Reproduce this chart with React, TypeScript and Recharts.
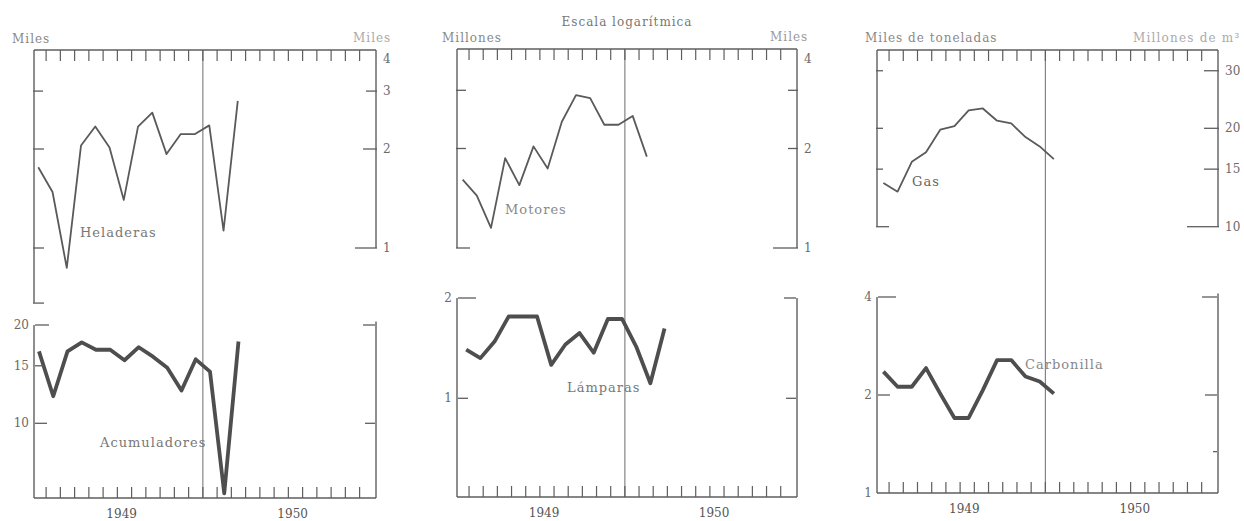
import React from 'react';
import { LineChart, Line, XAxis, YAxis, ReferenceLine } from 'recharts';

// ---------- data ----------
const MONTH_TICKS = [1, 2, 3, 4, 5, 6, 7, 8, 9, 10, 11, 12, 13, 14, 15, 16, 17, 18, 19, 20, 21, 22, 23];
const YEAR_LABELS = ['1949', '1950'];
const YEAR_POS = [6.3, 18.3];
const X_DOMAIN: [number, number] = [0.15, 24.15];
const DIVIDER = 12;

const HELADERAS = [1.76, 1.48, 0.87, 2.05, 2.34, 2.02, 1.4, 2.34, 2.58, 1.93, 2.22, 2.22, 2.36, 1.13, 2.8];
const ACUMULADORES = [16.6, 12.1, 16.6, 17.7, 16.8, 16.8, 15.6, 17.1, 16.0, 14.8, 12.6, 15.7, 14.4, 6.1, 17.8];
const MOTORES = [1.61, 1.44, 1.15, 1.87, 1.55, 2.03, 1.74, 2.41, 2.9, 2.84, 2.36, 2.36, 2.51, 1.89];
const LAMPARAS = [1.4, 1.32, 1.48, 1.76, 1.76, 1.76, 1.26, 1.45, 1.57, 1.37, 1.73, 1.73, 1.43, 1.11, 1.62];
const GAS = [13.6, 12.8, 15.8, 16.9, 19.8, 20.3, 22.7, 23.0, 21.1, 20.7, 18.8, 17.6, 16.1];
const CARBONILLA = [2.36, 2.12, 2.12, 2.42, 2.02, 1.7, 1.7, 2.07, 2.56, 2.56, 2.28, 2.2, 2.02];

// tick values / labels
const P1_UP_RIGHT = [4, 3, 2, 1];
const P1_UP_LEFT = [3, 2, 1, 0.68];
const P1_LO_LEFT = [20, 15, 10];
const P1_LO_RIGHT = [20, 10];
const P2_UP_RIGHT = [4, 3, 2, 1];
const P2_UP_LEFT = [3, 2, 1];
const P2_LO_LEFT = [2, 1];
const P2_LO_RIGHT = [2, 1];
const P3_UP_RIGHT = [30, 20, 15, 10];
const P3_UP_LEFT = [30, 20, 15, 10];
const P3_LO_LEFT = [4, 2, 1];
const P3_LO_RIGHT = [4, 2, 1.34];

// ---------- style ----------
const W = 1244;
const H = 521;
const FONT = '"DejaVu Serif", "Liberation Serif", serif';
const AXIS = '#5e5e5e';
const LINE = '#5a5a5a';
const TXT = '#6a6a6a';

type TickSpec = { v: number; len: number; label?: string; dy?: number };
type Sub = {
  values: number[];
  offset: number;
  thick: boolean;
  anchors: [[number, number], [number, number]];
  leftSpine: [number | null, number | null];
  rightSpine: [number | null, number | null];
  leftTicks: TickSpec[];
  rightTicks: TickSpec[];
};
type PanelCfg = {
  svgLeft: number;
  svgWidth: number;
  plot: { left: number; right: number; top: number; bottom: number };
  upper: Sub;
  lower: Sub;
};

const lens = (vals: number[], l: number[], labels?: (string | undefined)[], dys?: number[]): TickSpec[] =>
  vals.map((v, i) => ({ v, len: l[i], label: labels ? labels[i] : undefined, dy: dys ? dys[i] : 0 }));

const PANELS: PanelCfg[] = [
  {
    svgLeft: 0,
    svgWidth: 420,
    plot: { left: 34, right: 376, top: 50, bottom: 498 },
    upper: {
      values: HELADERAS,
      offset: 0.45,
      thick: false,
      anchors: [[4, 50], [1, 248]],
      leftSpine: [null, 0.68],
      rightSpine: [null, 1],
      leftTicks: lens(P1_UP_LEFT, [10, 11, 11, 11]),
      rightTicks: lens(P1_UP_RIGHT, [0, 11, 14, 22], P1_UP_RIGHT.map(String), [9, 0, 0, 0]),
    },
    lower: {
      values: ACUMULADORES,
      offset: 0.5,
      thick: true,
      anchors: [[20, 325], [10, 423.3]],
      leftSpine: [20, null],
      rightSpine: [20.5, null],
      leftTicks: lens(P1_LO_LEFT, [14, 9, 12], P1_LO_LEFT.map(String)),
      rightTicks: lens(P1_LO_RIGHT, [12, 10]),
    },
  },
  {
    svgLeft: 420,
    svgWidth: 420,
    plot: { left: 457, right: 797, top: 49, bottom: 497 },
    upper: {
      values: MOTORES,
      offset: 0.55,
      thick: false,
      anchors: [[4, 49], [1, 248]],
      leftSpine: [null, 1],
      rightSpine: [null, 1],
      leftTicks: lens(P2_UP_LEFT, [10, 10, 14]),
      rightTicks: lens(P2_UP_RIGHT, [0, 10, 10, 25], ['4', undefined, '2', '1'], [10, 0, 0, 0]),
    },
    lower: {
      values: LAMPARAS,
      offset: 0.8,
      thick: true,
      anchors: [[2, 298], [1, 398.3]],
      leftSpine: [2, null],
      rightSpine: [2, null],
      leftTicks: lens(P2_LO_LEFT, [18, 10], P2_LO_LEFT.map(String)),
      rightTicks: lens(P2_LO_RIGHT, [12, 10]),
    },
  },
  {
    svgLeft: 840,
    svgWidth: 404,
    plot: { left: 877, right: 1218, top: 50, bottom: 493 },
    upper: {
      values: GAS,
      offset: 0.6,
      thick: false,
      anchors: [[20, 128.3], [10, 226.7]],
      leftSpine: [null, 10],
      rightSpine: [null, 10],
      leftTicks: lens(P3_UP_LEFT, [7, 7, 7, 13]),
      rightTicks: lens(P3_UP_RIGHT, [15, 15, 15, 32], P3_UP_RIGHT.map(String)),
    },
    lower: {
      values: CARBONILLA,
      offset: 0.6,
      thick: true,
      anchors: [[4, 297], [1, 493]],
      leftSpine: [4, null],
      rightSpine: [4.1, null],
      leftTicks: lens(P3_LO_LEFT, [18, 12, 0], P3_LO_LEFT.map(String)),
      rightTicks: lens(P3_LO_RIGHT, [15, 12, 4]),
    },
  },
];

const logDomain = (a: [number, number], b: [number, number], top: number, bottom: number): [number, number] => {
  const la = Math.log10(a[0]);
  const k = (la - Math.log10(b[0])) / (b[1] - a[1]);
  return [Math.pow(10, la - (bottom - a[1]) * k), Math.pow(10, la + (a[1] - top) * k)];
};

const yTick = (specs: TickSpec[], side: 'left' | 'right', shift: number) => (props: any) => {
  const { y, payload } = props;
  const x = props.x + shift;
  const s = specs.find((t) => Math.abs(t.v - payload.value) < 1e-6);
  if (!s) return <g />;
  const dir = side === 'left' ? 1 : -1;
  return (
    <g>
      {s.len > 0 && <line x1={x} x2={x + dir * s.len} y1={y} y2={y} stroke={AXIS} strokeWidth={1.3} />}
      {s.label && (
        <text
          x={x - dir * 6}
          y={y + (s.dy || 0)}
          dy={4}
          textAnchor={side === 'left' ? 'end' : 'start'}
          fontFamily={FONT}
          fontSize={12}
          fill={TXT}
        >
          {s.label}
        </text>
      )}
    </g>
  );
};

const topTick = (props: any) => {
  const { x, y } = props;
  return <line x1={x} x2={x} y1={y} y2={y + 11} stroke={AXIS} strokeWidth={1.2} />;
};

const bottomTick = (props: any) => {
  const { x, y, payload } = props;
  const yi = YEAR_POS.indexOf(payload.value);
  if (yi >= 0) {
    return (
      <text x={x} y={y + 20} textAnchor="middle" fontFamily={FONT} fontSize={12} fill="#555">
        {YEAR_LABELS[yi]}
      </text>
    );
  }
  return <line x1={x} x2={x} y1={y} y2={y - 11} stroke={AXIS} strokeWidth={1.2} />;
};

function Panel({ p }: { p: PanelCfg }) {
  const { svgLeft, svgWidth, plot } = p;
  // every axis takes 1px; two y axes on each side, one x axis top and bottom
  const margin = {
    left: plot.left - svgLeft - 2,
    right: svgLeft + svgWidth - plot.right - 2,
    top: plot.top - 1,
    bottom: H - plot.bottom - 1,
  };
  const subs = [p.upper, p.lower].map((s, i) => {
    const domain = logDomain(s.anchors[0], s.anchors[1], plot.top, plot.bottom);
    return {
      ...s,
      id: i === 0 ? 'u' : 'l',
      domain,
      data: s.values.map((v, j) => ({ x: j + s.offset, v })),
    };
  });
  return (
    <div style={{ position: 'absolute', left: svgLeft, top: 0 }}>
      <LineChart width={svgWidth} height={H} margin={margin}>
        <XAxis
          xAxisId="t"
          orientation="top"
          type="number"
          dataKey="x"
          domain={X_DOMAIN}
          allowDataOverflow
          ticks={MONTH_TICKS}
          interval={0}
          height={1}
          tickSize={0}
          tickMargin={0}
          tickLine={false}
          axisLine={{ stroke: AXIS, strokeWidth: 1.4 }}
          tick={topTick}
        />
        <XAxis
          xAxisId="b"
          orientation="bottom"
          type="number"
          dataKey="x"
          domain={X_DOMAIN}
          allowDataOverflow
          ticks={[...MONTH_TICKS, ...YEAR_POS]}
          interval={0}
          height={1}
          tickSize={0}
          tickMargin={0}
          tickLine={false}
          axisLine={{ stroke: AXIS, strokeWidth: 1.4 }}
          tick={bottomTick}
        />
        {subs.map((s, i) => (
          <YAxis
            key={s.id + 'L'}
            yAxisId={s.id + 'L'}
            orientation="left"
            type="number"
            scale="log"
            domain={s.domain}
            allowDataOverflow
            ticks={s.leftTicks.map((t) => t.v)}
            interval={0}
            width={1}
            tickSize={0}
            tickMargin={0}
            tickLine={false}
            axisLine={false}
            tick={yTick(s.leftTicks, 'left', i)}
          />
        ))}
        {subs.map((s, i) => (
          <YAxis
            key={s.id + 'R'}
            yAxisId={s.id + 'R'}
            orientation="right"
            type="number"
            scale="log"
            domain={s.domain}
            allowDataOverflow
            ticks={s.rightTicks.map((t) => t.v)}
            interval={0}
            width={1}
            tickSize={0}
            tickMargin={0}
            tickLine={false}
            axisLine={false}
            tick={yTick(s.rightTicks, 'right', -i)}
          />
        ))}
        {subs.map((s) => (
          <ReferenceLine
            key={s.id + 'spL'}
            xAxisId="b"
            yAxisId={s.id + 'L'}
            ifOverflow="visible"
            stroke={AXIS}
            strokeWidth={1.4}
            segment={[
              { x: X_DOMAIN[0], y: s.leftSpine[0] ?? s.domain[1] },
              { x: X_DOMAIN[0], y: s.leftSpine[1] ?? s.domain[0] },
            ]}
          />
        ))}
        {subs.map((s) => (
          <ReferenceLine
            key={s.id + 'spR'}
            xAxisId="b"
            yAxisId={s.id + 'L'}
            ifOverflow="visible"
            stroke={AXIS}
            strokeWidth={1.4}
            segment={[
              { x: X_DOMAIN[1], y: s.rightSpine[0] ?? s.domain[1] },
              { x: X_DOMAIN[1], y: s.rightSpine[1] ?? s.domain[0] },
            ]}
          />
        ))}
        <ReferenceLine xAxisId="b" yAxisId="uL" x={DIVIDER} stroke="#7a7a7a" strokeWidth={1.1} />
        {subs.map((s) => (
          <Line
            key={s.id + 'line'}
            xAxisId="b"
            yAxisId={s.id + 'L'}
            data={s.data}
            dataKey="v"
            type="linear"
            stroke={s.thick ? '#4e4e4e' : LINE}
            strokeWidth={s.thick ? 3.8 : 1.8}
            strokeLinejoin="round"
            dot={false}
            activeDot={false}
            isAnimationActive={false}
          />
        ))}
      </LineChart>
    </div>
  );
}

const TEXTS: { t: string; x: number; y: number; size: number; color: string; center?: boolean; ls?: number }[] = [
  { t: 'Miles', x: 12, y: 39, size: 12, color: '#888' },
  { t: 'Miles', x: 353, y: 38, size: 12, color: '#aaa' },
  { t: 'Escala logarítmica', x: 627, y: 22, size: 12, color: '#777', center: true },
  { t: 'Millones', x: 442, y: 38, size: 12, color: '#888' },
  { t: 'Miles', x: 770, y: 37, size: 12, color: '#999' },
  { t: 'Miles de toneladas', x: 865, y: 38, size: 12, color: '#888' },
  { t: 'Millones de m³', x: 1133, y: 38, size: 12, color: '#aaa', ls: 1.2 },
  { t: 'Heladeras', x: 80, y: 233, size: 13, color: '#777' },
  { t: 'Acumuladores', x: 100, y: 443, size: 13, color: '#777' },
  { t: 'Motores', x: 505, y: 210, size: 13, color: '#888' },
  { t: 'Lámparas', x: 567, y: 388, size: 13, color: '#777' },
  { t: 'Gas', x: 912, y: 182, size: 13, color: '#666' },
  { t: 'Carbonilla', x: 1025, y: 365, size: 13, color: '#888' },
];

export default function App() {
  return (
    <div
      style={{
        position: 'absolute',
        left: 0,
        top: 0,
        width: W,
        height: H,
        overflow: 'hidden',
        background: '#fff',
      }}
    >
      {PANELS.map((p, i) => (
        <Panel key={i} p={p} />
      ))}
      {TEXTS.map((t, i) => (
        <div
          key={i}
          style={{
            position: 'absolute',
            left: t.center ? t.x - 110 : t.x,
            width: t.center ? 220 : undefined,
            textAlign: t.center ? 'center' : 'left',
            top: t.y - t.size * 0.6,
            fontFamily: FONT,
            fontSize: t.size,
            lineHeight: `${t.size * 1.2}px`,
            color: t.color,
            whiteSpace: 'nowrap',
            letterSpacing: t.ls ?? 1,
          }}
        >
          {t.t}
        </div>
      ))}
    </div>
  );
}
